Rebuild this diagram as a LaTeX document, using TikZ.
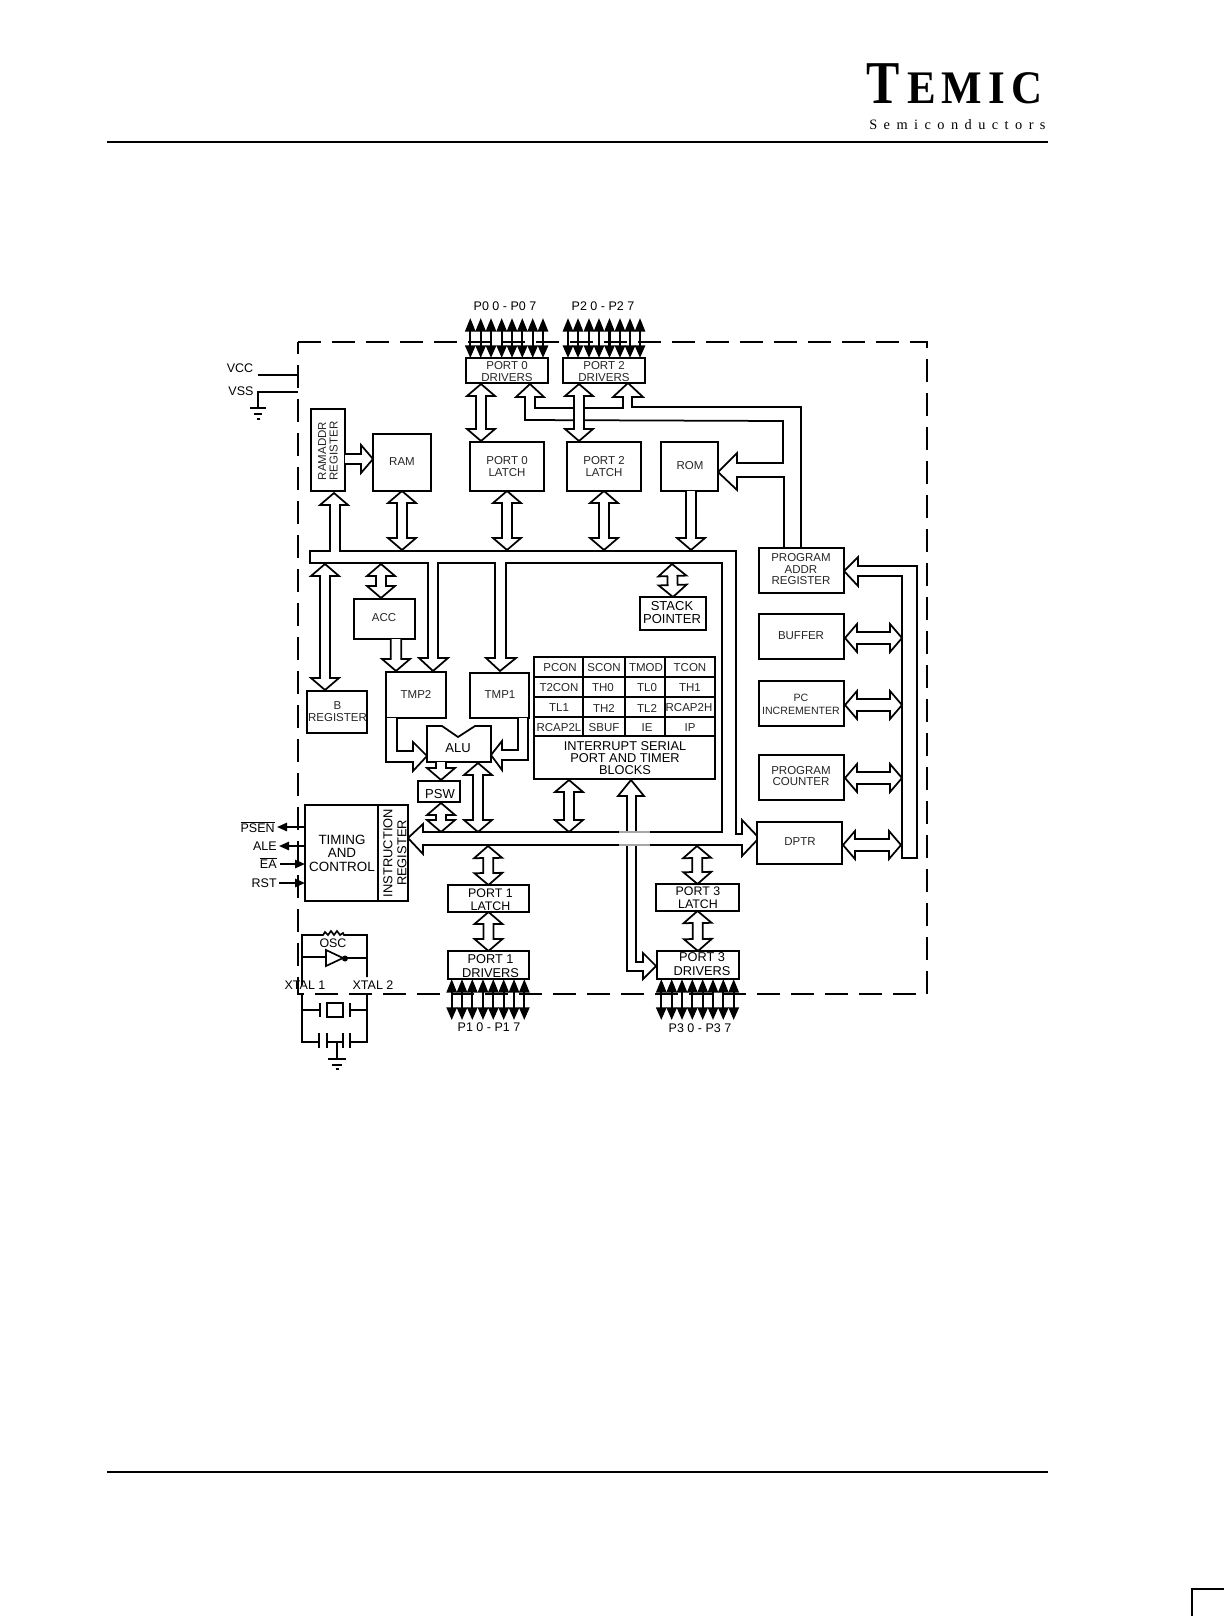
\documentclass[tikz,border=0pt]{standalone}
\usepackage{fontspec}
\setmainfont{Liberation Sans}
\newfontfamily\logofont{Liberation Serif}
\usetikzlibrary{calc,arrows.meta}
\newcommand\fpx[2]{\pgfmathsetmacro\fpxa{#1*.6}\pgfmathsetmacro\fpxb{#2*.6}\fontsize{\fpxa pt}{\fpxb pt}\selectfont}
\tikzset{
  wire/.style={draw=black,fill=white,line width=1.05pt,miter limit=6},
  blk/.style={draw=black,fill=white,line width=1pt,inner sep=0pt,outer sep=0pt},
  lab/.style={inner sep=0pt,align=center,text=black!85,font=\fpx{11.5}{11.5}},
  big/.style={lab,text=black,font=\fpx{13}{13}},
  sig/.style={lab,text=black,font=\fpx{12.5}{12.5}},
  pin/.style={line width=1.25pt,{Triangle[length=8.2pt,width=6.2pt]}-{Triangle[length=7.6pt,width=6.2pt]}},
  thin wire/.style={line width=1pt},
  rule/.style={line width=1.2pt},
}
% box node: x1 y1 x2 y2 name
\newcommand\BX[5]{%
  \node[blk,minimum width={(#3-#1)*0.6pt},minimum height={(#4-#2)*0.6pt}] (#5) at ({(#1+#3)/2},{(#2+#4)/2}) {};}
\newcommand\Tx[4][lab]{\node[#1] (#2) at #3 {#4};}
% hollow double arrow
\newcommand\Bi[3][3pt]{%
  \coordinate (A) at (#2); \coordinate (B) at (#3);
  \coordinate (hA) at ($(A)!7.2pt!(B)$); \coordinate (hB) at ($(B)!7.2pt!(A)$);
  \draw[wire] (A) -- ($(hA)!8.4pt!90:(B)$) -- ($(hA)!#1!90:(B)$) -- ($(hB)!#1!-90:(A)$) -- ($(hB)!8.4pt!-90:(A)$) -- (B)
    -- ($(hB)!-8.4pt!-90:(A)$) -- ($(hB)!-#1!-90:(A)$) -- ($(hA)!-#1!90:(B)$) -- ($(hA)!-8.4pt!90:(B)$) -- cycle;}
% hollow single arrow
\newcommand\Un[3][3pt]{%
  \coordinate (A) at (#2); \coordinate (B) at (#3);
  \coordinate (hB) at ($(B)!7.2pt!(A)$);
  \draw[wire] ($(A)!#1!90:(B)$) -- ($(hB)!#1!-90:(A)$) -- ($(hB)!8.4pt!-90:(A)$) -- (B)
    -- ($(hB)!-8.4pt!-90:(A)$) -- ($(hB)!-#1!-90:(A)$) -- ($(A)!-#1!90:(B)$);}
\begin{document}
\begin{tikzpicture}[x=0.6pt,y=-0.6pt]
\useasboundingbox (0,0) rectangle (1224,1616);
% page furniture
\node[anchor=base west,inner sep=0pt,xscale=.82] (logoT) at (866,103) {\logofont\bfseries\fontsize{36.5pt}{40pt}\selectfont T};
\node[anchor=base west,inner sep=0pt,xscale=.92] (logoE) at (907,103) {\logofont\bfseries\fontsize{28pt}{30pt}\selectfont\addfontfeature{LetterSpace=14}EMIC};
\node[anchor=base west,inner sep=0pt] (logoS) at (869,129) {\logofont\fontsize{8.6pt}{8.6pt}\selectfont\addfontfeature{LetterSpace=45}Semiconductors};
\draw[rule] (107,142) -- (1048,142);
\draw[rule] (107,1472) -- (1048,1472);
\draw[rule] (1192,1616) -- (1192,1589) -- (1224,1589);
% dashed frame
\draw[line width=.85pt,dash pattern=on 13.8pt off 6.6pt] (298,342) -- (927,342) -- (927,994) -- (298,994) -- cycle;
% power
\Tx[sig]{vcc}{(240,368)}{VCC}
\Tx[sig]{vss}{(241,391)}{VSS}
\coordinate (frameA) at (298,375); \coordinate (frameB) at (298,392);
\coordinate (vccE) at (258,375); \coordinate (gnd) at (258,408);
\draw[thin wire] (vccE) -- (frameA);
\draw[thin wire] (frameB) -- (258,392) -- (gnd);
\draw[thin wire] (250,408) -- (266,408) (254,414) -- (262,414);
\draw[line width=1.2pt] (257,419) -- (260,419);
% pins
\foreach \x in {470.3,480.7,491,501.7,512,522.3,532.7,543,568,578,589,599,609.5,620,630,640}
  \draw[pin] (\x,318) -- (\x,358);
\foreach \x in {451.7,462,472.3,483,493.3,503.7,514,524.3,661.3,671.7,682,692.3,702.7,713,723.3,733.7}
  \draw[pin] (\x,979) -- (\x,1020);
\Tx[sig]{p0lab}{(505,306)}{P0 0 - P0 7}
\Tx[sig]{p2lab}{(603,306)}{P2 0 - P2 7}
\Tx[sig]{p1lab}{(489,1027)}{P1 0 - P1 7}
\Tx[sig]{p3lab}{(700,1028)}{P3 0 - P3 7}
% program address network
\draw[wire] (525,420) -- (525,397) -- (516,397) -- (530,384) -- (544,397) -- (535,397) -- (535,408)
  -- (623,408) -- (623,397) -- (613,397) -- (628,383) -- (643,397) -- (632,397) -- (632,407)
  -- (801,407) -- (801,549) -- (784,549) -- (784,477) -- (737,477) -- (737,490) -- (718,472)
  -- (737,453) -- (737,463) -- (783,463) -- (783,421) -- cycle;
% shaft to port 3 drivers
\draw[wire] (631,780) -- (644,796) -- (636,796) -- (636,962) -- (643,962) -- (643,953) -- (656,966)
  -- (643,979) -- (643,971) -- (627,971) -- (627,796) -- (618,796) -- cycle;
% internal bus
\draw[wire] (310,551) -- (330,551) -- (330,505) -- (320,505) -- (334,493) -- (348,505) -- (340,505)
  -- (340,551) -- (736,551) -- (736,834) -- (742,834) -- (742,820) -- (759,838) -- (742,856)
  -- (742,845) -- (423,845) -- (423,854) -- (408,838) -- (423,824) -- (423,832) -- (722,832)
  -- (722,563) -- (506,563) -- (506,658) -- (516,658) -- (500,671) -- (486,658) -- (495,658)
  -- (495,563) -- (438,563) -- (438,658) -- (448,658) -- (433,671) -- (419,658) -- (428,658)
  -- (428,563) -- (310,563) -- cycle;
\draw[gray!70,line width=1.05pt] (619,832) -- (650,832) (619,845) -- (650,845);
% right bus
\draw[wire] (858,566) -- (917,566) -- (917,858) -- (902,858) -- (902,576) -- (858,576) -- (858,586)
  -- (844,571) -- (858,557) -- cycle;
% boxes
\BX{311}{409}{345}{491}{ramaddr}
\draw[line width=1.4pt] (311,409) -- (345,409);
\node[lab,rotate=90] (ramaddr-t) at (328,451) {RAMADDR\\REGISTER};
\BX{373}{434}{431}{491}{ram}        \Tx{ram-t}{(402,462)}{RAM}
\BX{470}{442}{544}{491}{p0latch}    \Tx{p0latch-t}{(507,466.5)}{PORT 0\\LATCH}
\BX{567}{442}{641}{491}{p2latch}    \Tx{p2latch-t}{(604,466.5)}{PORT 2\\LATCH}
\BX{661}{442}{718}{491}{rom}        \Tx{rom-t}{(690,466)}{ROM}
\BX{466}{358}{548}{383}{p0drv}      \Tx{p0drv-t}{(507,371.5)}{PORT 0\\DRIVERS}
\BX{563}{358}{645}{383}{p2drv}      \Tx{p2drv-t}{(604,371.5)}{PORT 2\\DRIVERS}
\BX{759}{548}{844}{593}{pareg}      \Tx{pareg-t}{(801,569.5)}{PROGRAM\\ADDR\\REGISTER}
\BX{759}{614}{844}{659}{buffer}     \Tx{buffer-t}{(801,636)}{BUFFER}
\BX{759}{681}{844}{726}{pcinc}      \Tx[lab,font=\fpx{10.6}{12.5}]{pcinc-t}{(801,704.5)}{PC\\INCREMENTER}
\BX{759}{755}{844}{800}{pc}         \Tx{pc-t}{(801,776)}{PROGRAM\\COUNTER}
\BX{757}{822}{842}{864}{dptr}       \Tx{dptr-t}{(800,842)}{DPTR}
\BX{386}{672}{446}{718}{tmp2}       \Tx{tmp2-t}{(416,694)}{TMP2}
\BX{470}{673}{529}{718}{tmp1}       \Tx{tmp1-t}{(500,695)}{TMP1}
\BX{354}{599}{415}{639}{acc}        \Tx{acc-t}{(384,618)}{ACC}
\BX{307}{691}{367}{733}{breg}       \Tx{breg-t}{(337.5,711.5)}{B\\REGISTER}
\BX{640}{597}{706}{630}{sp}         \Tx[big]{sp-t}{(672,612.5)}{STACK\\POINTER}
\BX{418}{781}{460}{802}{psw}        \Tx[big]{psw-t}{(440,794)}{PSW}
% ALU
\draw[wire] (427,726) -- (442,726) -- (458,737) -- (475,726) -- (491,726) -- (491,762) -- (427,762) -- cycle;
\Tx[big]{alu-t}{(458,748)}{ALU}
% timing and instruction register
\BX{305}{805}{408}{901}{timing}
\coordinate (divT) at (378,805); \coordinate (divB) at (378,901);
\draw[line width=1pt] (divT) -- (divB);
\Tx[lab,text=black,font=\fpx{13.4}{13.5}]{timing-t}{(342,853)}{TIMING\\AND\\CONTROL}
\node[lab,text=black,rotate=90,font=\fpx{12.9}{14}] (ireg-t) at (395,853) {INSTRUCTION\\REGISTER};
% interrupt block
\BX{534}{657}{715}{779}{intblk}
\draw[line width=1pt] (534,677) -- (715,677) (534,697) -- (715,697) (534,717) -- (715,717) (534,736) -- (715,736)
  (583,657) -- (583,736) (625,657) -- (625,736) (665,657) -- (665,736);
\Tx{c11}{(560,668)}{PCON}\Tx{c12}{(604,668)}{SCON}\Tx{c13}{(646,668)}{TMOD}\Tx{c14}{(690,668)}{TCON}
\Tx{c21}{(559,688)}{T2CON}\Tx{c22}{(603,688)}{TH0}\Tx{c23}{(647,688)}{TL0}\Tx{c24}{(690,688)}{TH1}
\Tx{c31}{(559,708)}{TL1}\Tx{c32}{(604,708)}{TH2}\Tx{c33}{(647,708)}{TL2}\Tx{c34}{(689,708)}{RCAP2H}
\Tx{c41}{(559,728)}{RCAP2L}\Tx{c42}{(604,728)}{SBUF}\Tx{c43}{(647,728)}{IE}\Tx{c44}{(690,728)}{IP}
\Tx[lab,text=black,font=\fpx{12.8}{12.4}]{intblk-t}{(625,758)}{INTERRUPT SERIAL\\PORT AND TIMER\\BLOCKS}
% port 1 / port 3 boxes
\BX{448}{885}{529}{912}{p1latch}    \Tx[lab,text=black,font=\fpx{12.4}{13.5}]{p1latch-t}{(490.5,899.5)}{PORT 1\\LATCH}
\BX{448}{951}{529}{979}{p1drv}      \Tx[lab,text=black,font=\fpx{12.8}{14}]{p1drv-t}{(490.5,966)}{PORT 1\\DRIVERS}
\BX{656}{884}{739}{911}{p3latch}    \Tx[lab,text=black,font=\fpx{12.4}{13.5}]{p3latch-t}{(698,897.5)}{PORT 3\\LATCH}
\BX{657}{951}{739}{979}{p3drv}      \Tx[lab,text=black,font=\fpx{12.8}{14}]{p3drv-t}{(702,964)}{PORT 3\\DRIVERS}
% bus tap points
\coordinate (busRam) at (402,550); \coordinate (busP0) at (507,550); \coordinate (busP2) at (604,550);
\coordinate (busRom) at (691,550); \coordinate (romS) at (691,491);
\coordinate (busB) at (325,564); \coordinate (bregT) at (325,690);
\coordinate (busAcc) at (381,564); \coordinate (accT) at (381,598);
\coordinate (busSp) at (672,564);
\coordinate (accS) at (396,639); \coordinate (tmp2T) at (396,671);
\coordinate (rarE) at (345,459); \coordinate (ramW) at (373,459);
\coordinate (p0dS) at (481,384); \coordinate (p0lN) at (481,441);
\coordinate (p2dS) at (579,384); \coordinate (p2lN) at (579,441);
\coordinate (aluS) at (441,762); \coordinate (pswN) at (441,780);
\coordinate (pswS) at (441,803); \coordinate (busPsw) at (441,832);
\coordinate (aluB) at (478,763); \coordinate (busAlu) at (478,832);
\coordinate (intA) at (569,780); \coordinate (busInt) at (569,832);
\coordinate (busP1) at (488,846); \coordinate (busP3) at (697,846);
\coordinate (rbBuf) at (902,638); \coordinate (bufE) at (845,638);
\coordinate (rbInc) at (902,705); \coordinate (incE) at (845,705);
\coordinate (rbPc) at (902,778); \coordinate (pcE) at (845,778);
\coordinate (rbDp) at (901,845); \coordinate (dpE) at (843,845);
% hollow arrows
\Un{rarE}{ramW}
\Bi{ram.south}{busRam}
\Bi{p0latch.south}{busP0}
\Bi{p2latch.south}{busP2}
\Un{romS}{busRom}
\Bi{p0dS}{p0lN}
\Bi{p2dS}{p2lN}
\Bi{busB}{bregT}
\Bi{busAcc}{accT}
\Bi{busSp}{sp.north}
\Un[3.2pt]{accS}{tmp2T}
\Un{aluS}{pswN}
\Bi{pswS}{busPsw}
\Bi{aluB}{busAlu}
\Bi{intA}{busInt}
\Bi{busP1}{p1latch.north}
\Bi{p1latch.south}{p1drv.north}
\Bi{busP3}{p3latch.north}
\Bi{p3latch.south}{p3drv.north}
\Bi[3.6pt]{bufE}{rbBuf}
\Bi[3.6pt]{incE}{rbInc}
\Bi[3.6pt]{pcE}{rbPc}
\Bi[3.6pt]{dpE}{rbDp}
% TMP to ALU elbows
\draw[wire] (386,718) -- (386,762) -- (413,762) -- (413,771) -- (427,756) -- (413,742) -- (413,751) -- (397,751) -- (397,718);
\draw[wire] (528,718) -- (528,760) -- (502,760) -- (502,770) -- (491,755) -- (502,741) -- (502,750) -- (518,750) -- (518,718);
% control signals
\node[sig,anchor=east] (psen) at (275,827) {$\overline{\hbox{PSEN}}$};
\node[sig,anchor=east] (ale) at (277,846) {ALE};
\node[sig,anchor=east] (ea) at (277,863) {$\overline{\hbox{EA}}$};
\node[sig,anchor=east] (rst) at (277,883) {RST};
\coordinate (tPsen) at (305,827); \coordinate (ePsen) at (277,827);
\coordinate (tAle) at (305,846); \coordinate (eAle) at (279,846);
\coordinate (tEa) at (305,864); \coordinate (eEa) at (280,864);
\coordinate (tRst) at (305,883); \coordinate (eRst) at (279,883);
\draw[thin wire,-{Triangle[length=6pt,width=5pt]}] (tPsen) -- (ePsen);
\draw[thin wire,-{Triangle[length=6pt,width=5pt]}] (tAle) -- (eAle);
\draw[thin wire,-{Triangle[length=6pt,width=5pt]}] (eEa) -- (tEa);
\draw[thin wire,-{Triangle[length=6pt,width=5pt]}] (eRst) -- (tRst);
% oscillator
\draw[thin wire] (302,985) -- (302,935) -- (323,935) -- (325,932) -- (328,935) -- (331,931) -- (334,935) -- (337,931) -- (340,935) -- (343,933) -- (344,935) -- (367,935) -- (367,977);
\Tx[lab,text=black,font=\fpx{12.4}{12.4}]{osc}{(333,943)}{OSC}
\draw[thin wire] (326,950) -- (343,958) -- (326,966) -- cycle;
\fill (345,958.5) circle (1.8pt);
\draw[thin wire] (302,957) -- (326,957) (345,958) -- (367,958);
\Tx[sig]{xtal1}{(305,985)}{XTAL 1}
\Tx[sig]{xtal2}{(373,985)}{XTAL 2}
% crystal and caps
\draw[thin wire] (302,994) -- (302,1042) -- (319,1042) (367,994) -- (367,1042) -- (350,1042);
\draw[thin wire] (302,1010) -- (320,1010) (350,1010) -- (367,1010);
\draw[line width=1.4pt] (320,1003) -- (320,1017) (350,1003) -- (350,1017);
\node[draw,line width=.9pt,minimum width=9.6pt,minimum height=8.4pt,inner sep=0pt] (xtal) at (335,1010) {};
\draw[line width=1.4pt] (319,1033) -- (319,1048) (327,1033) -- (327,1048) (343,1033) -- (343,1048) (350,1033) -- (350,1048);
\draw[thin wire] (327,1042) -- (343,1042) (337,1042) -- (337,1059);
\draw[thin wire] (328,1059) -- (346,1059) (332,1065) -- (342,1065);
\draw[line width=1.2pt] (335.5,1069) -- (338.5,1069);
\end{tikzpicture}
\end{document}
